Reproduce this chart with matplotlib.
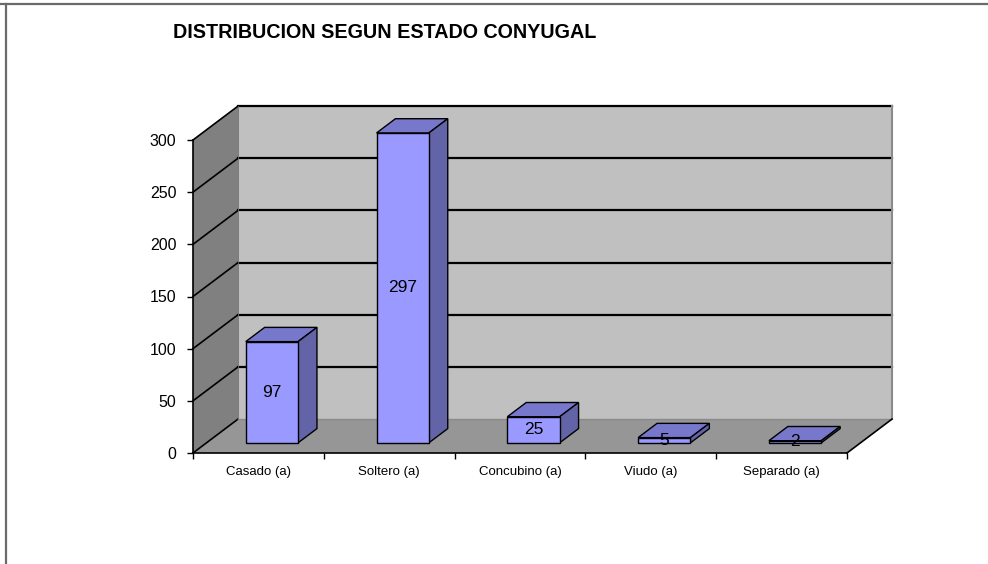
import matplotlib
matplotlib.use("Agg")
import matplotlib.pyplot as plt
from matplotlib.patches import Polygon
from matplotlib.lines import Line2D

plt.rcParams['font.family'] = ['Liberation Sans', 'DejaVu Sans']

# ---- data ----
categories = ["Casado (a)", "Soltero (a)", "Concubino (a)", "Viudo (a)", "Separado (a)"]
values = [97, 297, 25, 5, 2]
yticks = [0, 50, 100, 150, 200, 250, 300]
title = "DISTRIBUCION SEGUN ESTADO CONYUGAL"

# ---- 3D-look geometry (in data units) ----
n = len(categories)
ymax = 300
DX = 0.344      # depth offset along x (category units)
DY = 32.5       # depth offset along y (value units)
d0, d1 = 0.30, 0.72   # bar depth span (fraction of depth)
bw = 0.40       # bar width

W, H = 988, 564
fig = plt.figure(figsize=(W / 100, H / 100), dpi=100)
px_per_unit = 313 / 300
left_px, bottom_px = 193, 453
ax_w = (n + DX) * 130.8
ax_h = (ymax + DY) * px_per_unit
ax = fig.add_axes([left_px / W, (H - bottom_px) / H, ax_w / W, ax_h / H])
ax.set_xlim(0, n + DX)
ax.set_ylim(0, ymax + DY)
for s in ax.spines.values():
    s.set_visible(False)
ax.patch.set_visible(False)

wall_c = '#C0C0C0'
side_wall_c = '#808080'
floor_c = '#969696'

# left wall
ax.add_patch(Polygon([(0, 0), (0, ymax), (DX, ymax + DY), (DX, DY)],
                     closed=True, facecolor=side_wall_c, edgecolor='none', zorder=1))
# back wall
ax.add_patch(Polygon([(DX, DY), (DX, ymax + DY), (n + DX, ymax + DY), (n + DX, DY)],
                     closed=True, facecolor=wall_c, edgecolor='none', zorder=1))
# floor
ax.add_patch(Polygon([(0, 0), (n, 0), (n + DX, DY), (DX, DY)],
                     closed=True, facecolor=floor_c, edgecolor='none', zorder=1))

# gridlines
for t in yticks:
    ax.plot([0, DX], [t, t + DY], color='black', lw=1.2, zorder=2, clip_on=False)
    if t > 0:
        ax.plot([DX, n + DX], [t + DY, t + DY], color='black', lw=1.6, zorder=2, clip_on=False)
ax.plot([DX, n + DX], [DY, DY], color='#8a8a8a', lw=1.0, zorder=2)
ax.plot([n + DX, n + DX], [DY, ymax + DY], color='#8a8a8a', lw=1.5, zorder=2, clip_on=False)
ax.plot([DX, DX], [DY, ymax + DY], color='#707070', lw=0.6, zorder=2)
# floor right edge & front edge, y axis
ax.plot([n, n + DX], [0, DY], color='black', lw=1.2, zorder=2, clip_on=False)
ax.plot([0, n], [0, 0], color='black', lw=1.2, zorder=6, clip_on=False)
ax.plot([0, 0], [0, ymax], color='black', lw=1.2, zorder=6, clip_on=False)

# bars
front_c = '#9999FF'
top_c = '#7777CC'
side_c = '#6363A8'
xs = [i + 0.5 + d0 * DX for i in range(n)]
base = d0 * DY
ax.bar(xs, values, width=bw, bottom=base, color=front_c, edgecolor='black',
       linewidth=1.0, zorder=4)
ddx = (d1 - d0) * DX
ddy = (d1 - d0) * DY
for x, v in zip(xs, values):
    xl, xr = x - bw / 2, x + bw / 2
    top = base + v
    ax.add_patch(Polygon([(xl, top), (xr, top), (xr + ddx, top + ddy), (xl + ddx, top + ddy)],
                         closed=True, facecolor=top_c, edgecolor='black', lw=1.0, zorder=3))
    ax.add_patch(Polygon([(xr, base), (xr, top), (xr + ddx, top + ddy), (xr + ddx, base + ddy)],
                         closed=True, facecolor=side_c, edgecolor='black', lw=1.0, zorder=3))
    ax.text(x, base + v / 2, str(v), ha='center', va='center', fontsize=12.5,
            color='black', zorder=7)

# ticks
ax.set_yticks(yticks)
ax.set_yticklabels([str(t) for t in yticks], fontsize=11.5)
ax.tick_params(axis='y', length=4, width=1, pad=8, direction='out')
ax.set_xticks(range(n + 1))
ax.set_xticklabels([''] * (n + 1))
ax.tick_params(axis='x', length=4, width=1, direction='out')
for i, c in enumerate(categories):
    ax.text(i + 0.5, -18, c, ha='center', va='center', fontsize=9.5, clip_on=False)

fig.text(173 / W, 1 - 32 / H, title, ha='left', va='center', fontsize=14.2, fontweight='bold')

# outer border
fig.add_artist(Line2D([0, 1], [1 - 4 / H, 1 - 4 / H], color='#6a6a6a', lw=1.6,
                      transform=fig.transFigure))
fig.add_artist(Line2D([5.5 / W, 5.5 / W], [0, 1 - 4 / H], color='#6a6a6a', lw=1.6,
                      transform=fig.transFigure))

fig.savefig('out.png', dpi=100, facecolor='white')
